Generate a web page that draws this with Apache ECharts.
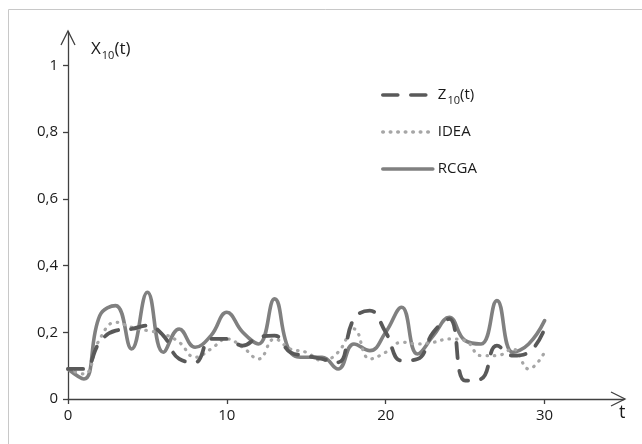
<!DOCTYPE html>
<html>
<head>
<meta charset="utf-8">
<script src="https://cdn.jsdelivr.net/npm/echarts@6/dist/echarts.min.js"></script>
<style>
html,body{margin:0;padding:0;background:#fff;}
#c{width:642px;height:444px;}
</style>
</head>
<body>
<div id="c"></div>
<script>
// ---- data ----
var tValues = [0,1,2,3,4,5,6,7,8,9,10,11,12,13,14,15,16,17,18,19,20,21,22,23,24,25,26,27,28,29,30];
var z10 = [0.09,0.09,0.17,0.205,0.21,0.22,0.19,0.12,0.11,0.18,0.18,0.16,0.185,0.19,0.14,0.13,0.12,0.11,0.24,0.265,0.2,0.115,0.12,0.2,0.24,0.055,0.06,0.16,0.13,0.14,0.21];
var idea = [0.09,0.075,0.18,0.23,0.215,0.205,0.195,0.17,0.125,0.15,0.18,0.155,0.12,0.18,0.15,0.14,0.115,0.14,0.21,0.12,0.14,0.17,0.165,0.17,0.18,0.175,0.13,0.13,0.15,0.09,0.14];
var rcga = [0.09,0.06,0.25,0.28,0.15,0.32,0.14,0.21,0.155,0.19,0.26,0.2,0.165,0.3,0.14,0.125,0.125,0.09,0.165,0.145,0.2,0.275,0.135,0.19,0.245,0.175,0.165,0.295,0.14,0.165,0.235];
var xTicks = [0,10,20,30];
var yTicks = [0,0.2,0.4,0.6,0.8,1];
var seriesNames = ['Z10(t)','IDEA','RCGA'];

function pairs(arr){ return arr.map(function(v,i){ return [tValues[i], v]; }); }

var FONT = '"Open Sans", "Liberation Sans", sans-serif';
var chart = echarts.init(document.getElementById('c'), null, {renderer:'canvas'});
var axisColor = '#404040';
var txt = '#1a1a1a';

var option = {
  animation:false,
  backgroundColor:'#fff',
  grid:{left:68, right:18, top:32, bottom:45, containLabel:false},
  xAxis:{
    type:'value', min:0, max:35,
    axisLine:{show:true, onZero:false, lineStyle:{color:axisColor, width:1.3}},
    axisTick:{show:true, length:5, customValues:xTicks, lineStyle:{color:axisColor, width:1.3}},
    axisLabel:{customValues:xTicks, color:txt, fontFamily:FONT, fontSize:15, margin:9},
    splitLine:{show:false}
  },
  yAxis:{
    type:'value', min:0, max:1.1,
    axisLine:{show:true, onZero:false, lineStyle:{color:axisColor, width:1.3}},
    axisTick:{show:true, length:5, customValues:yTicks, lineStyle:{color:axisColor, width:1.3}},
    axisLabel:{customValues:yTicks, color:txt, fontFamily:FONT, fontSize:15, margin:10,
      formatter:function(v){ return String(+v.toFixed(1)).replace('.',','); }},
    splitLine:{show:false}
  },
  legend:{
    orient:'vertical', left:376, top:79,
    itemWidth:50, itemHeight:14, itemGap:15,
    data:seriesNames,
    itemStyle:{opacity:0},
    lineStyle:{width:3.6},
    formatter:function(n){
      if(n==='Z10(t)') return '{a|Z}{s|10}{a|(t)}';
      return '{a|'+n+'}';
    },
    textStyle:{
      fontFamily:FONT, fontSize:15, color:txt, lineHeight:22, padding:[0,0,0,0],
      rich:{
        a:{fontFamily:FONT, fontSize:15, color:txt, lineHeight:22},
        s:{fontFamily:FONT, fontSize:11, color:txt, lineHeight:14, verticalAlign:'bottom', padding:[8,0,0,1]}
      }
    }
  },
  series:[
    {name:'RCGA', type:'line', data:pairs(rcga), smooth:0.45, symbol:'none', showSymbol:false, z:2,
      lineStyle:{color:'#808080', width:3.6, cap:'round', join:'round'}, itemStyle:{color:'#808080'}},
    {name:'IDEA', type:'line', data:pairs(idea), smooth:0.45, symbol:'none', showSymbol:false, z:3,
      lineStyle:{color:'#a6a6a6', width:3.2, type:[0.5,7], cap:'round'}, itemStyle:{color:'#a6a6a6'}},
    {name:'Z10(t)', type:'line', data:pairs(z10), smooth:0.45, symbol:'none', showSymbol:false, z:4,
      lineStyle:{color:'#595959', width:3.8, type:[15,13], cap:'round'}, itemStyle:{color:'#595959'}}
  ]
};
chart.setOption(option);

// decorative arrows, axis titles and frame positioned from the axis scales
var o = chart.convertToPixel({gridIndex:0},[0,0]);
var xe = chart.convertToPixel({gridIndex:0},[35,0]);
var ye = chart.convertToPixel({gridIndex:0},[0,1.1]);
chart.setOption({
  graphic:[
    {type:'rect', shape:{x:8.5,y:9.5,width:800,height:600}, style:{fill:'none', stroke:'#c8c8c8', lineWidth:1}, silent:true, z:-1},
    {type:'polyline', shape:{points:[[xe[0]-13,xe[1]-7],[xe[0]+1,xe[1]],[xe[0]-13,xe[1]+7]]}, style:{fill:'none', stroke:axisColor, lineWidth:1.3}},
    {type:'polyline', shape:{points:[[ye[0]-7,ye[1]+13],[ye[0],ye[1]-1],[ye[0]+7,ye[1]+13]]}, style:{fill:'none', stroke:axisColor, lineWidth:1.3}},
    {type:'text', x:o[0]+23, y:ye[1]+5, style:{
      text:'{a|X}{s|10}{a|(t)}', fontFamily:FONT,
      rich:{a:{fontFamily:FONT,fontSize:17,fill:txt,lineHeight:24}, s:{fontFamily:FONT,fontSize:11,fill:txt,lineHeight:14,verticalAlign:'bottom',padding:[9,0,0,1]}}
    }},
    {type:'text', x:xe[0]-5, y:xe[1]+5, style:{text:'t', fontFamily:FONT, fontSize:18, fill:txt}}
  ]
});
</script>
</body>
</html>
